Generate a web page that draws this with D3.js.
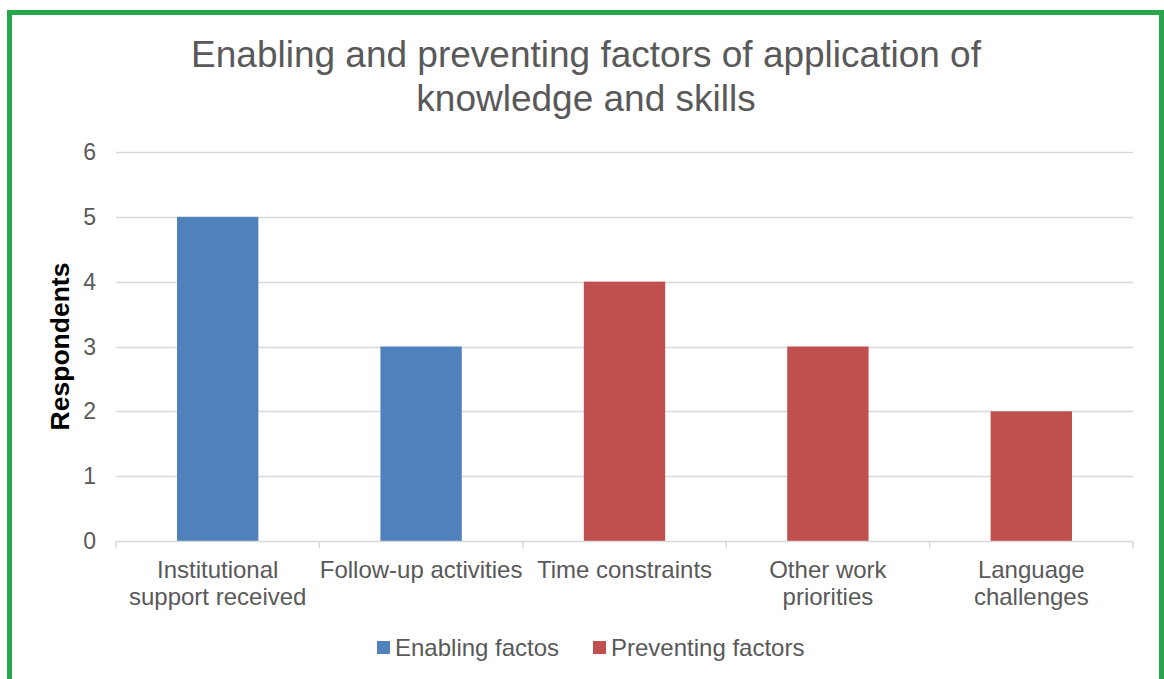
<!DOCTYPE html>
<html>
<head>
<meta charset="utf-8">
<script src="https://cdn.jsdelivr.net/npm/d3@7"></script>
<style>
	body { margin: 0; background: #fff; }
	svg { display: block; font-family: Arial, "Liberation Sans", sans-serif; }
</style>
</head>
<body>
<script>
	// Data
	let categories = ['Institutional support received', 'Follow-up activities', 'Time constraints', 'Other work priorities', 'Language challenges'];
	let categoryLines = [['Institutional', 'support received'], ['Follow-up activities'], ['Time constraints'], ['Other work', 'priorities'], ['Language', 'challenges']];
	let values = [5, 3, 4, 3, 2];
	let groups = ['Enabling factos', 'Enabling factos', 'Preventing factors', 'Preventing factors', 'Preventing factors'];
	let seriesNames = ['Enabling factos', 'Preventing factors'];
	let yTicks = [0, 1, 2, 3, 4, 5, 6];

	let width = 1164, height = 679;
	let margin = {left: 116, right: 31, top: 152, bottom: 138};
	let textColor = '#595959';

	let color = d3.scaleOrdinal()
		.domain(seriesNames)
		.range(['#4F81BD', '#C0504D']);

	let svg = d3.select('body').append('svg')
		.attr('width', width)
		.attr('height', height);

	// Green frame
	svg.append('rect')
		.attr('x', 9.5).attr('y', 12.5)
		.attr('width', 1152).attr('height', 700)
		.attr('fill', 'none')
		.attr('stroke', '#27A64C')
		.attr('stroke-width', 5);

	// Title
	let title = svg.append('text')
		.attr('text-anchor', 'middle')
		.attr('fill', textColor)
		.style('font-size', '37px');
	title.append('tspan').attr('x', 586).attr('y', 67).text('Enabling and preventing factors of application of');
	title.append('tspan').attr('x', 586).attr('y', 111).text('knowledge and skills');

	// Scales
	let x = d3.scaleBand()
		.domain(categories)
		.range([margin.left, width - margin.right]);
	let y = d3.scaleLinear()
		.domain([0, 6])
		.range([height - margin.bottom, margin.top]);

	// Gridlines
	svg.append('g')
		.selectAll('line')
		.data(yTicks.filter(d => d > 0)).enter()
		.append('line')
		.attr('x1', margin.left).attr('x2', width - margin.right)
		.attr('y1', d => Math.round(y(d)) + 0.5).attr('y2', d => Math.round(y(d)) + 0.5)
		.attr('stroke', '#D9D9D9')
		.attr('stroke-width', 1.5);

	// Y tick labels
	svg.append('g')
		.selectAll('text')
		.data(yTicks).enter()
		.append('text')
		.attr('x', 96)
		.attr('y', d => y(d) + 8)
		.attr('text-anchor', 'end')
		.attr('fill', textColor)
		.style('font-size', '23px')
		.text(d => d);

	// Y axis title
	svg.append('text')
		.attr('transform', 'translate(69,' + (y(3)) + ') rotate(-90)')
		.attr('text-anchor', 'middle')
		.attr('fill', '#000')
		.style('font-size', '26.5px')
		.style('font-weight', 'bold')
		.text('Respondents');

	// Bars
	let barW = x.bandwidth() * 0.4;
	svg.append('g')
		.selectAll('rect')
		.data(categories).enter()
		.append('rect')
		.attr('x', d => x(d) + (x.bandwidth() - barW) / 2)
		.attr('y', (d, i) => y(values[i]))
		.attr('width', barW)
		.attr('height', (d, i) => y(0) - y(values[i]))
		.attr('fill', (d, i) => color(groups[i]));

	// X axis with ticks between categories
	let axisY = Math.round(y(0)) + 0.5;
	let xAxis = svg.append('g');
	xAxis.append('line')
		.attr('x1', margin.left).attr('x2', width - margin.right)
		.attr('y1', axisY).attr('y2', axisY)
		.attr('stroke', '#D9D9D9')
		.attr('stroke-width', 1.5);
	xAxis.selectAll('.tick')
		.data(categories.concat([null])).enter()
		.append('line')
		.attr('x1', (d, i) => margin.left + i * x.step())
		.attr('x2', (d, i) => margin.left + i * x.step())
		.attr('y1', axisY).attr('y2', axisY + 7)
		.attr('stroke', '#D9D9D9')
		.attr('stroke-width', 1.5);

	// Category labels
	let catLabel = svg.append('g')
		.selectAll('text')
		.data(categories).enter()
		.append('text')
		.attr('text-anchor', 'middle')
		.attr('fill', textColor)
		.style('font-size', '24px');
	catLabel.each(function(d, i){
		let t = d3.select(this);
		categoryLines[i].forEach((line, j) => {
			t.append('tspan')
				.attr('x', x(d) + x.bandwidth() / 2)
				.attr('y', 578 + j * 27)
				.text(line);
		});
	});

	// Legend
	let legendX = [377, 593];
	let legend = svg.append('g')
		.selectAll('g')
		.data(seriesNames).enter()
		.append('g')
		.attr('transform', (d, i) => 'translate(' + legendX[i] + ',641)');
	legend.append('rect')
		.attr('width', 13).attr('height', 13)
		.attr('fill', d => color(d));
	legend.append('text')
		.attr('x', 18).attr('y', 15)
		.attr('fill', textColor)
		.style('font-size', '24px')
		.text(d => d);
</script>
</body>
</html>
